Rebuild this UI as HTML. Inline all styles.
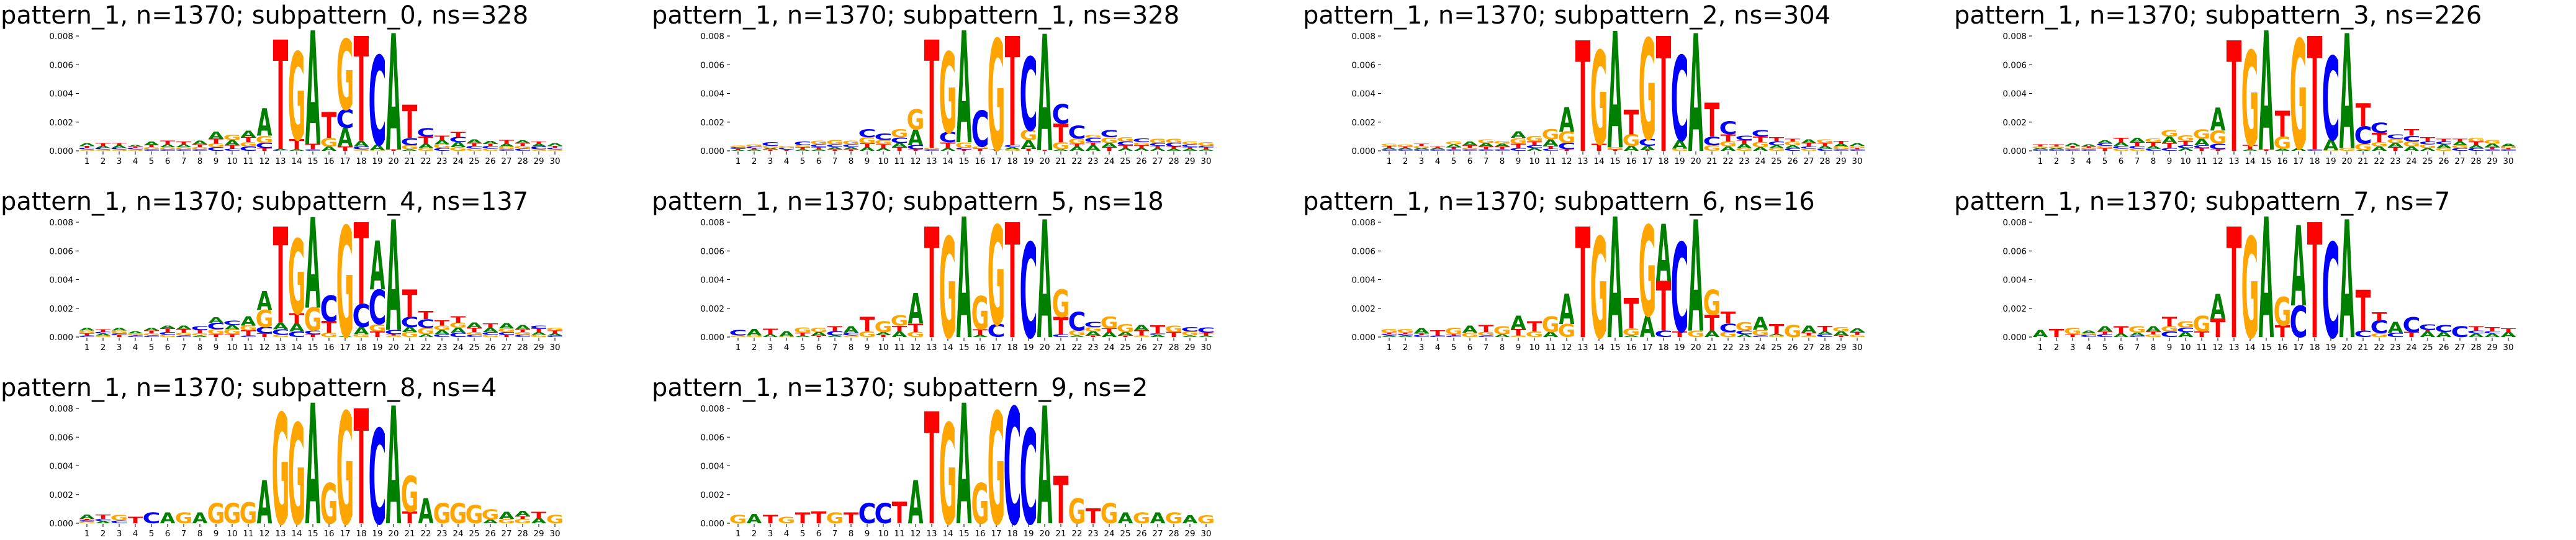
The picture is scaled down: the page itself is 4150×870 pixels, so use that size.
<!DOCTYPE html>
<html><head><meta charset="utf-8">
<style>
html,body{margin:0;padding:0;background:#fff;}
svg{display:block;}
</style></head>
<body>
<svg id="fig" width="4150" height="870" viewBox="0 0 4150 870" xmlns="http://www.w3.org/2000/svg"></svg>
<script>
// ---- chart data (heights in units of 0.001, letters listed bottom->top) ----
const subpatternIds = [0,1,2,3,4,5,6,7,8,9];
const nsValues = [328,328,304,226,137,18,16,7,4,2];
const yTickValues = [0,2,4,6,8];
const yTickLabels = ["0.000","0.002","0.004","0.006","0.008"];
const positions = [1,2,3,4,5,6,7,8,9,10,11,12,13,14,15,16,17,18,19,20,21,22,23,24,25,26,27,28,29,30];

const logo0 = "G.1 C.1 T.15 A.2|G.1 C.1 A.15 T.2|G.1 C.1 A.2 T.15|G.1 C.1 T.1 A.1|C.1 G.15 T.15 A.25|C.1 G.15 A.2 T.25|C.1 G.15 A.2 T.2|C.1 G.15 T.2 A.25|C.25 G.25 T.35 A.5|C.15 T.25 A.35 G.35|C.3 G.3 T.35 A.45|T.2 C.35 G.5 A1.9|C.05 A.1 T7.6|A.1 T.7 G6.1|C.1 T.4 A7.9|A.3 G.6 T1.8|T.3 A1.3 C1.3 G4.9|G.1 C.2 A.4 T7.3|G.05 A.4 C6.2|T.1 A8.1|A.1 G.3 C.5 T2.3|G.2 A.3 T.5 C.6|C.2 G.25 A.3 T.3|G.25 A.35 C.35 T.35|G.15 C.2 T.2 A.25|G.15 C.2 T.15 A.2|C.1 G.2 A.2 T.25|C.15 G.2 T.2 A.2|G.1 C.2 A.2 T.15|G.1 C.1 T.15 A.2";
const logo1 = "A.05 T.1 C.1 G.1|A.1 T.1 C.1 G.15|T.1 A.1 G.15 C.25|T.05 A.05 C.1 G.15|A.1 T.15 G.15 C.25|A.1 T.15 C.2 G.25|T.1 A.15 C.2 G.3|T.1 A.15 C.2 G.25|A.25 T.25 G.45 C.55|A.2 T.25 G.3 C.45|T.25 A.3 C.4 G.55|T.1 C.3 A1.1 G1.4|C.1 G.1 T7.55|A.2 T.4 C.7 G5.6|T.1 C.1 G.4 A7.8|T.15 G.15 C2.5|T.05 A.05 G7.7|G.1 A.15 C.15 T7.6|T.15 A.6 G.7 C5.1|T.05 A8.1|A.1 G.5 T1.3 C1.35|A.3 T.2 G.35 C.9|A.4 T.2 C.3 G.2|T.25 A.3 G.4 C.5|A.2 T.2 C.25 G.3|A.2 T.2 G.2 C.25|A.2 T.15 C.2 G.3|A.15 T.15 C.25 G.3|A.15 T.1 C.2 G.2|A.1 T.15 C.1 G.25";
const logo2 = "C.1 A.1 T.15 G.15|C.1 A.1 T.1 G.15|C.1 A.1 G.15 T.15|C.1 A.1 T.1|C.1 T.15 A.2 G.2|C.1 G.1 T.2 A.25|C.1 T.2 A.25 G.25|C.1 T.2 A.2 G.2|C.2 T.3 G.4 A.45|A.2 C.2 T.25 G.4|C.15 T.2 A.45 G.7|T.1 C.45 G.8 A1.7|T7.7|T.5 G6.5|T.1 G.15 A8.1|A.35 G.8 T1.7|T.05 A.3 C.5 G7.0|T8.0|G.15 A.6 C5.9|A8.2|G.4 C.6 T2.35|A.3 G.35 T.5 C.9|G.2 A.3 T.25 C.3|A.25 G.35 T.4 C.45|G.2 A.2 C.25 T.3|C.2 A.2 G.25 T.2|G.15 C.15 T.25 A.25|C.15 A.2 T.2 G.25|C.1 G.2 A.2 T.2|C.1 T.1 G.15 A.2";
const logo3 = "C.1 A.1 G.1 T.15|C.1 A.1 G.1 T.15|C.1 G.1 T.15 A.2|C.1 G.1 T.1 A.15|T.2 G.15 C.2 A.2|G.15 C.2 A.25 T.3|G.15 C.2 T.25 A.3|C.15 A.2 T.25 G.25|C.2 T.35 A.45 G.45|A.2 C.2 T.3 G.4|T.2 C.2 A.45 G.65|T.1 C.4 G.9 A1.6|T7.7|A.1 T.3 G6.6|T.1 A8.3|A.15 G.85 T1.8|A.2 G7.6|C.1 T7.9|G.05 A.75 C5.8|G.2 A8.0|A.05 G.45 C1.2 T1.6|A.3 G.3 T.65 C.7|T.25 A.3 G.3 C.3|A.3 G.35 C.4 T.45|A.2 G.25 C.2 T.3|G.2 A.25 C.2 T.2|C.2 G.2 A.25 T.2|C.2 A.2 T.25 G.25|C.1 T.15 A.25 G.25|C.1 T.1 G.1 A.2";
const logo4 = "C.1 T.15 G.2 A.2|G.1 A.15 C.1 T.2|T.15 C.1 G.2 A.2|C.1 T.05 G.1 A.15|C.1 G.15 T.2 A.2|G.15 C.2 T.25 A.2|C.1 G.2 T.25 A.25|A.1 G.15 T.25 C.25|T.2 G.35 C.45 A.4|T.2 G.35 A.3 C.3|C.1 T.35 G.35 A.65|T.25 C.45 G1.2 A1.3|G.15 C.4 A.45 T6.7|C.4 A.55 T.7 G5.2|T.2 C.25 G1.6 A6.3|G.3 T.8 C1.8|A.05 G7.7|G.2 A.5 C1.6 T5.7|T.4 G.5 C2.4 A3.4|G.1 T.1 C.3 A7.7|G.35 A.35 C.7 T1.9|A.2 G.45 C.6 T.55|C.2 A.3 G.3 T.35|C.3 A.35 G.35 T.45|C.15 G.2 T.3 A.35|G.15 C.2 A.3 T.3|T.15 C.2 G.25 A.35|C.15 G.2 T.2 A.3|G.15 A.2 T.25 C.2|C.1 A.15 T.2 G.2";
const logo5 = "G.1 C.4|G.1 A.45|A.2 T.4|G.05 A.35|A.1 T.2 G.35|T.1 A.25 G.3|A.1 C.3 T.35|G.1 C.2 A.45|G.4 T1.0|T.15 A.2 G.75|A.4 T.4 G.7|G.35 T.6 A2.1|T7.7|G7.0|A8.4|A.15 T.4 G2.3|C.9 G6.9|T8.0|C6.6|A8.2|C.2 T1.2 G1.9|A.1 G.35 C1.3|T.1 A.3 G.3 C.35|A.35 T.25 G.8|T.1 A.25 G.55|G.1 T.35 A.4|A.15 C.1 T.55|T.35 G.45|A.1 G.3 C.3|A.1 T.2 C.35";
const logo6 = "A.1 C.1 T.1 G.25|A.1 C.1 T.1 G.25|C.15 T.1 A.35|C.1 T.35|C.1 T.1 G.45|G.3 A.5|C.1 G.25 T.5|A.2 G.55|G.1 T.45 A.95|G.4 T.7|A.35 G1.1|G.9 A2.1|T7.7|G7.0|A8.4|A.1 G.5 T2.1|A1.5 G6.3|C.45 T3.45 A4.0|T.4 C6.2|G.45 A7.75|A.45 T1.1 G1.75|G.35 C.6 T.8|A.2 C.25 G.6|C.1 G.4 A.9|G.1 A.1 T.7|G.85|G.1 T.2 A.5|C.2 A.2 T.4|T.1 A.3 G.3|G.15 T.2 A.25";
const logo7 = "A.5|T.55|T.2 G.45|C.15 G.1 A.2|C.2 T.2 A.35|A.25 T.5|C.1 A.2 G.45|G.2 T.2 A.35|C.4 G.35 T.65|A.35 C.3 G.45|T.4 G1.1|T1.3 A1.7|T7.7|G7.0|A8.4|T.8 G2.0|C2.2 A5.6|T8.0|C6.6|A8.2|C.45 T2.85|G.25 C.9 T.6|C.3 A.75|T.35 C1.05|A.4 T.1 C.4|A.35 C.5|C.75|A.25 C.2 T.3|A.25 C.15 T.3|A.35 T.25";
const logo8 = "G.1 C.1 T.1 A.3|A.15 C.15 T.3|C.2 G.4|T.45|C.75|A.75|G.75|A.75|G1.4|G1.4|G1.45|A3.0|G7.7|G7.0|A8.4|G2.8|G7.8|T8.0|C6.6|A8.2|T.8 G2.5|A1.75|G1.4|G1.4|G1.25|A.25 G.7|G.3 A.5|G.3 T.2 A.35|A.35 T.45|G.6";
const logo9 = "G.6|A.65|T.6|G.45|T.75|T.8|G.75|T.75|C1.4|C1.4|T1.5|A3.0|T7.8|G7.0|A8.4|G2.8|G7.8|C8.1|C6.6|A8.2|T3.3|G1.75|T1.05|G1.4|A.75|G.75|A.75|G.75|A.55|G.55";
const logos = [logo0,logo1,logo2,logo3,logo4,logo5,logo6,logo7,logo8,logo9];

// ---- layout / styling ----
const NS = "http://www.w3.org/2000/svg";
const svg = document.getElementById('fig');
const colPitch = 1049, rowPitch = 300;
const colors = {A:"#008000", C:"#0000ff", G:"#ffa500", T:"#ff0000"};
const inkW = {A:0.77, C:0.62, G:0.70, T:0.68};
const capH = 72.9;
const letterW = 24.5;
function xPos(i){ return 140 + (i-1)*26.0; }
function yPos(v){ return 243 - v*23.125; }

function mk(tag, attrs, parent){
  const el = document.createElementNS(NS, tag);
  for (const k in attrs) el.setAttribute(k, attrs[k]);
  parent.appendChild(el);
  return el;
}

logos.forEach((logo, k) => {
  const col = k % 4, row = Math.floor(k / 4);
  const g = mk('g', {transform:`translate(${col*colPitch},${row*rowPitch})`}, svg);
  
  

  const title = mk('text', {x:1, y:38, 'font-family':'"DejaVu Sans","Liberation Sans",sans-serif', 'font-size':40, fill:'#000'}, g);
  title.textContent = `pattern_1, n=1370; subpattern_${subpatternIds[k]}, ns=${nsValues[k]}`;
  
  

  // y axis ticks
  yTickValues.forEach((v, j) => {
    const y = yPos(v);
    const tk = mk('line', {x1:122, x2:127, y1:y, y2:y, stroke:'#000', 'stroke-width':1}, g);
    
    
    const lb = mk('text', {x:118, y:y+5, 'text-anchor':'end', 'font-family':'"DejaVu Sans","Liberation Sans",sans-serif', 'font-size':13.5, fill:'#000'}, g);
    lb.textContent = yTickLabels[j];
    
    
  });

  // x axis ticks
  positions.forEach(p => {
    const x = xPos(p);
    const tk = mk('line', {x1:x, x2:x, y1:244, y2:249, stroke:'#000', 'stroke-width':1}, g);
    
    
    const lb = mk('text', {x:x, y:264, 'text-anchor':'middle', 'font-family':'"DejaVu Sans","Liberation Sans",sans-serif', 'font-size':13.5, fill:'#000'}, g);
    lb.textContent = String(p);
    
    
  });

  // letters
  const cols = logo.split('|');
  cols.forEach((colStr, pi) => {
    const p = positions[pi];
    let cum = 0;
    colStr.trim().split(/\s+/).forEach(tok => {
      const L = tok[0];
      const h = parseFloat(tok.slice(1));
      if (!(h > 0)) return;
      const yb = yPos(cum), yt = yPos(cum + h);
      cum += h;
      const hp = yb - yt;
      const sy = hp / capH;
      const sx = letterW / (inkW[L] * 100);
      const t = mk('text', {x:0, y:0, 'text-anchor':'middle', 'font-family':'"DejaVu Sans","Liberation Sans",sans-serif', 'font-weight':'bold', 'font-size':100, fill:colors[L], transform:`translate(${xPos(p)},${yb}) scale(${sx},${sy})`}, g);
      t.textContent = L;
      
      
    });
  });
});
</script>
</body></html>
